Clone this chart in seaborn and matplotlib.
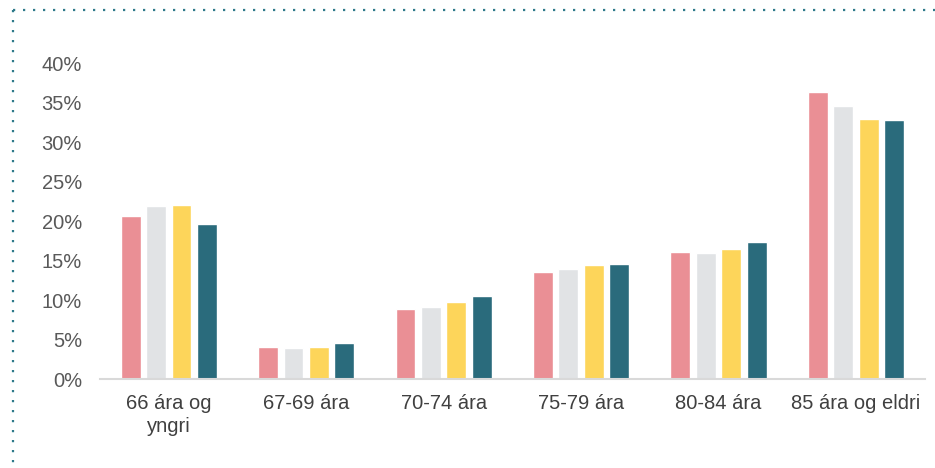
import matplotlib
matplotlib.use("Agg")
import matplotlib.pyplot as plt
from matplotlib.lines import Line2D
from matplotlib.ticker import PercentFormatter
import seaborn as sns
import pandas as pd

categories = ["66 ára og\nyngri", "67-69 ára", "70-74 ára", "75-79 ára", "80-84 ára", "85 ára og eldri"]
series = ["Röð 1", "Röð 2", "Röð 3", "Röð 4"]
s1 = [20.6, 4.1, 8.9, 13.6, 16.1, 36.4]
s2 = [21.9, 3.9, 9.1, 14.0, 16.0, 34.6]
s3 = [22.1, 4.0, 9.7, 14.4, 16.5, 32.9]
s4 = [19.6, 4.6, 10.5, 14.6, 17.4, 32.8]
colors = ["#EA8F95", "#E1E3E5", "#FDD55A", "#2A6B7C"]
yticks = [0, 5, 10, 15, 20, 25, 30, 35, 40]

rows = []
for name, vals in zip(series, [s1, s2, s3, s4]):
    for c, v in zip(categories, vals):
        rows.append({"cat": c, "series": name, "value": v})
df = pd.DataFrame(rows)

sns.set_theme(style="white")
plt.rcParams["font.family"] = ["Liberation Sans", "DejaVu Sans"]

fig = plt.figure(figsize=(9.35, 4.68), dpi=100)
ax = fig.add_axes([0.107, 0.19, 0.882, 0.675])

sns.barplot(data=df, x="cat", y="value", hue="series", palette=colors,
            order=categories, hue_order=series, width=0.74, gap=0.22,
            saturation=1, legend=False, ax=ax)

ax.set_ylim(0, 40)
ax.set_xlim(-0.5, len(categories) - 0.5)
ax.set_yticks(yticks)
ax.yaxis.set_major_formatter(PercentFormatter(decimals=0))
ax.set_xlabel("")
ax.set_ylabel("")
for s in ["top", "right", "left"]:
    ax.spines[s].set_visible(False)
ax.spines["bottom"].set_color("#D9D9D9")
ax.spines["bottom"].set_linewidth(1.5)
ax.tick_params(axis="y", length=0, pad=13, labelsize=14.5, labelcolor="#595959")
ax.tick_params(axis="x", length=0, pad=11, labelsize=14.5, labelcolor="#404040")
for lab in ax.get_xticklabels():
    lab.set_linespacing(1.25)

# dotted frame on top and left
dotc = "#2E7A8A"
fig.add_artist(Line2D([13 / 935, 1.0], [1 - 10 / 468, 1 - 10 / 468], transform=fig.transFigure,
                      color=dotc, linestyle=(0, (1, 3.5)), linewidth=1.6))
fig.add_artist(Line2D([13 / 935, 13 / 935], [1 - 10 / 468, 0.0], transform=fig.transFigure,
                      color=dotc, linestyle=(0, (1, 3.5)), linewidth=1.6))

fig.savefig("out.png", dpi=100, facecolor="white")
